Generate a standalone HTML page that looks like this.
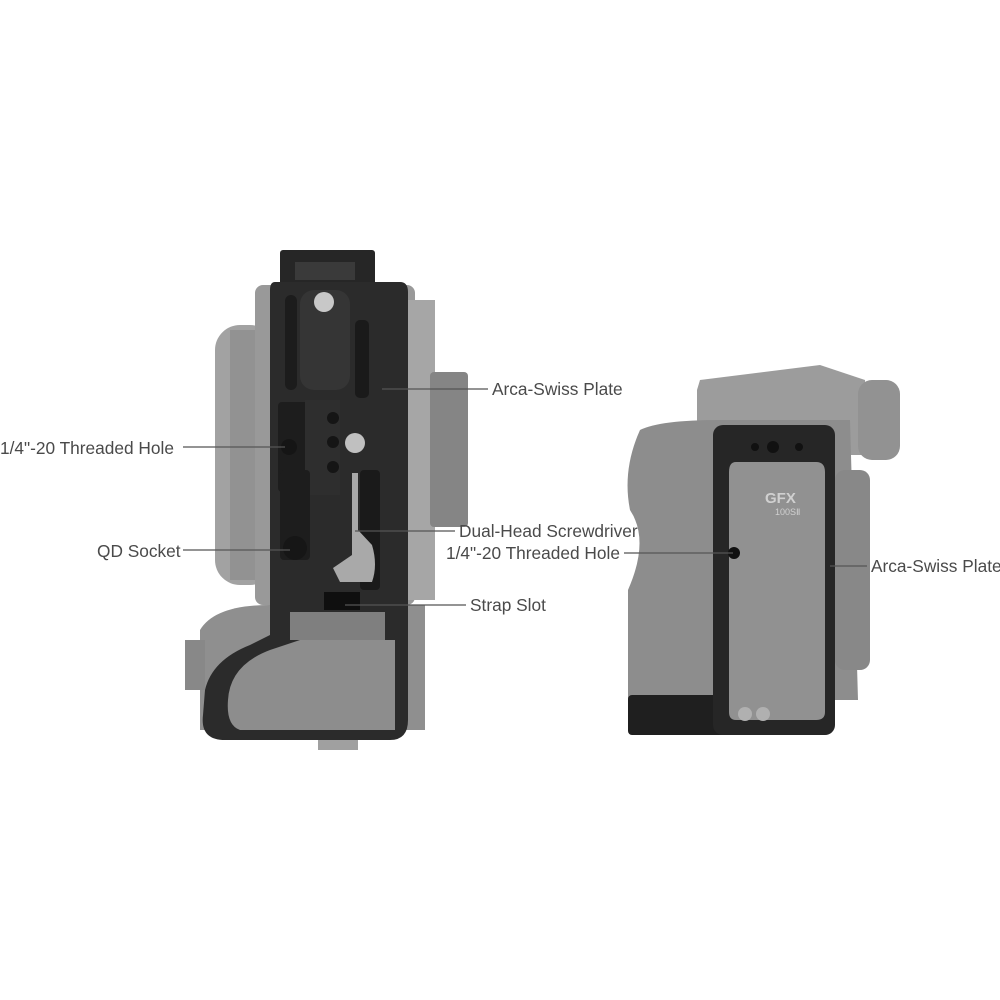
<!DOCTYPE html>
<html><head><meta charset="utf-8"><style>
body{margin:0;background:#fff;}
svg{display:block}
text{font-family:"Liberation Sans",sans-serif;font-size:17.3px;fill:#4a4a4a}
</style></head><body>
<svg width="1000" height="1000" viewBox="0 0 1000 1000">
<rect width="1000" height="1000" fill="#fff"/>
<!-- LEFT CAMERA -->
<rect x="215" y="325" width="60" height="260" rx="25" fill="#a2a2a2"/>
<rect x="230" y="330" width="40" height="250" fill="#929292"/>
<rect x="255" y="285" width="160" height="320" rx="8" fill="#999"/>
<rect x="400" y="300" width="35" height="300" fill="#a6a6a6"/>
<rect x="430" y="372" width="38" height="155" rx="4" fill="#858585"/>
<path d="M200 630 Q215 605 270 605 L425 605 L425 730 L200 730 Z" fill="#8f8f8f"/>
<rect x="185" y="640" width="20" height="50" fill="#888"/>
<rect x="318" y="735" width="40" height="15" fill="#a0a0a0"/>
<!-- plate -->
<rect x="280" y="250" width="95" height="35" rx="3" fill="#262626"/>
<rect x="295" y="262" width="60" height="18" fill="#3a3a3a"/>
<path d="M275 282 L400 282 Q408 282 408 292 L408 720 Q408 740 390 740 L225 740 Q200 740 203 715 L205 690 Q212 660 250 645 L270 635 L270 290 Q270 282 275 282 Z" fill="#2b2b2b"/>
<path d="M228 700 Q230 665 270 650 L300 640 L395 640 L395 730 L240 730 Q226 725 228 700 Z" fill="#8d8d8d"/>
<rect x="290" y="612" width="95" height="28" fill="#7f7f7f"/>
<rect x="285" y="295" width="12" height="95" rx="6" fill="#1c1c1c"/>
<rect x="300" y="290" width="50" height="100" rx="14" fill="#353535"/>
<circle cx="324" cy="302" r="10" fill="#c8c8c8"/>
<rect x="355" y="320" width="14" height="78" rx="5" fill="#1a1a1a"/>
<rect x="278" y="402" width="36" height="90" rx="4" fill="#1d1d1d"/>
<rect x="305" y="400" width="35" height="95" fill="#2e2e2e"/>
<circle cx="289" cy="447" r="8" fill="#151515"/>
<circle cx="333" cy="418" r="6" fill="#151515"/>
<circle cx="333" cy="442" r="6" fill="#151515"/>
<circle cx="333" cy="467" r="6" fill="#151515"/>
<circle cx="355" cy="443" r="10" fill="#c0c0c0"/>
<rect x="280" y="470" width="30" height="90" rx="4" fill="#1d1d1d"/>
<circle cx="295" cy="548" r="12" fill="#161616"/>
<rect x="360" y="470" width="20" height="120" rx="4" fill="#1a1a1a"/>
<path d="M352 473 L358 473 L358 530 L372 545 Q378 565 372 582 L340 582 L333 568 L352 555 Z" fill="#a9a9a9"/>
<rect x="324" y="592" width="36" height="18" fill="#0f0f0f"/>
<!-- RIGHT CAMERA -->
<path d="M697 390 L700 380 L820 365 L865 380 L868 455 L697 455 Z" fill="#9c9c9c"/>
<rect x="858" y="380" width="42" height="80" rx="14" fill="#929292"/>
<path d="M640 430 Q660 420 720 420 L850 420 L858 700 L628 700 L628 590 Q650 540 630 510 Q622 470 640 430 Z" fill="#8d8d8d"/>
<rect x="835" y="470" width="35" height="200" rx="10" fill="#888"/>
<rect x="628" y="695" width="200" height="40" rx="4" fill="#1f1f1f"/>
<rect x="713" y="425" width="122" height="310" rx="10" fill="#262626"/>
<path d="M736 462 L816 462 Q825 462 825 472 L825 712 Q825 720 816 720 L736 720 Q729 720 729 712 L729 540 Q742 540 742 553 Q742 566 729 566 L729 472 Q729 462 736 462 Z" fill="#919191"/>
<circle cx="755" cy="447" r="4" fill="#111"/>
<circle cx="773" cy="447" r="6" fill="#111"/>
<circle cx="799" cy="447" r="4" fill="#111"/>
<circle cx="734" cy="553" r="6" fill="#111"/>
<text x="765" y="503" style="font-size:15px;fill:#d0d0d0;font-weight:bold">GFX</text>
<text x="775" y="515" style="font-size:9px;fill:#d0d0d0">100SⅡ</text>
<circle cx="745" cy="714" r="7" fill="#b0b0b0"/>
<circle cx="763" cy="714" r="7" fill="#b0b0b0"/>
<!-- lines & labels -->
<g stroke="#555" stroke-width="1.3">
<line x1="382" y1="389" x2="488" y2="389"/>
<line x1="183" y1="447" x2="285" y2="447"/>
<line x1="355" y1="531" x2="455" y2="531"/>
<line x1="183" y1="550" x2="290" y2="550"/>
<line x1="624" y1="553" x2="733" y2="553"/>
<line x1="830" y1="566" x2="867" y2="566"/>
<line x1="345" y1="605" x2="466" y2="605"/>
</g>
<text x="492" y="395">Arca-Swiss Plate</text>
<text x="0" y="454">1/4"-20 Threaded Hole</text>
<text x="459" y="537">Dual-Head Screwdriver</text>
<text x="97" y="557">QD Socket</text>
<text x="446" y="559">1/4"-20 Threaded Hole</text>
<text x="871" y="572">Arca-Swiss Plate</text>
<text x="470" y="611">Strap Slot</text>
</svg>
</body></html>
